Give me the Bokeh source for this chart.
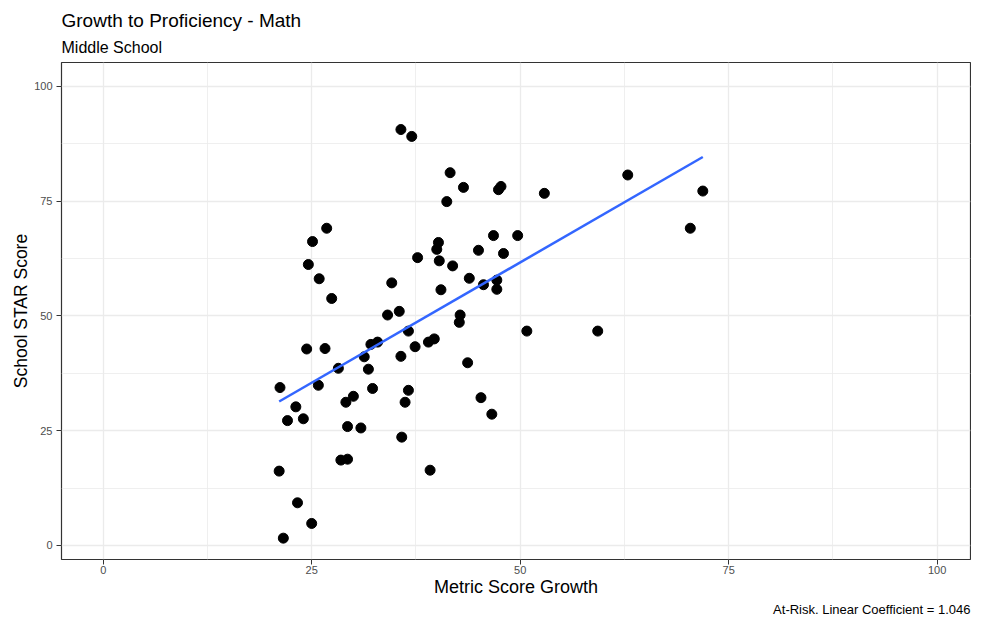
import numpy as np
from bokeh.plotting import figure
from bokeh.models import FixedTicker, Title, Range1d
from bokeh.embed import file_html
from bokeh.resources import INLINE

# ---- data ----
growth = [35.7, 37.0, 41.6, 43.2, 41.2, 26.8, 25.1, 24.6, 25.9, 27.4,
          40.2, 40.0, 40.3, 37.7, 41.9, 43.9, 45.0, 34.6, 40.5, 35.5,
          47.7, 47.4, 52.9, 46.8, 49.7, 48.0, 45.6, 47.2, 47.2, 42.8,
          42.7, 36.6, 50.8, 59.3, 35.7, 37.4, 39.0, 39.7, 43.7, 36.6,
          36.2, 45.3, 46.6, 35.8, 34.1, 24.4, 26.6, 32.1, 32.9, 31.3,
          28.2, 31.8, 21.2, 25.8, 32.3, 30.0, 29.1, 23.1, 22.1, 24.0,
          29.3, 30.9, 28.5, 29.3, 39.2, 21.1, 23.3, 25.0, 21.6, 62.9,
          71.9, 70.4]
score = [90.6, 89.1, 81.2, 78.0, 74.9, 69.1, 66.2, 61.2, 58.1, 53.8,
         66.0, 64.5, 62.0, 62.7, 60.9, 58.2, 64.3, 57.2, 55.7, 51.0,
         78.2, 77.5, 76.7, 67.5, 67.5, 63.6, 56.8, 57.8, 55.8, 50.2,
         48.6, 46.7, 46.7, 46.7, 41.2, 43.3, 44.3, 45.0, 39.8, 33.8,
         31.2, 32.2, 28.6, 23.6, 50.2, 42.8, 42.9, 43.8, 44.3, 41.1,
         38.6, 38.4, 34.4, 34.9, 34.2, 32.5, 31.2, 30.2, 27.2, 27.6,
         25.9, 25.6, 18.6, 18.8, 16.4, 16.2, 9.3, 4.8, 1.6, 80.7,
         77.2, 69.1]

x_ticks = [0, 25, 50, 75, 100]
y_ticks = [0, 25, 50, 75, 100]
minor_ticks = [12.5, 37.5, 62.5, 87.5]

title_text = "Growth to Proficiency - Math"
subtitle_text = "Middle School"
x_label = "Metric Score Growth"
y_label = "School STAR Score"
caption_text = "At-Risk. Linear Coefficient = 1.046"

FONT = "Liberation Sans"

p = figure(width=971, height=616, output_backend="svg", toolbar_location=None,
           x_range=Range1d(-5.0, 104.0), y_range=Range1d(-3.05, 105.2),
           title=None, min_border_left=61, min_border_right=1,
           min_border_top=62, min_border_bottom=51)
p.background_fill_color = "white"
p.border_fill_color = "white"
p.outline_line_color = "#333333"
p.outline_line_width = 1.2

for ax, ticks in ((p.xaxis[0], x_ticks), (p.yaxis[0], y_ticks)):
    ax.ticker = FixedTicker(ticks=ticks, minor_ticks=minor_ticks)
    ax.axis_line_color = None
    ax.major_tick_line_color = "#333333"
    ax.major_tick_out = 5
    ax.major_tick_in = 0
    ax.minor_tick_line_color = None
    ax.major_label_text_font = FONT
    ax.major_label_text_font_size = "11px"
    ax.major_label_text_color = "#4D4D4D"
    ax.axis_label_text_font = FONT
    ax.axis_label_text_font_style = "normal"
    ax.axis_label_text_color = "black"

p.xaxis[0].axis_label = x_label
p.yaxis[0].axis_label = y_label
p.xaxis[0].axis_label_text_font_size = "18px"
p.yaxis[0].axis_label_text_font_size = "17.5px"
p.xaxis[0].major_label_standoff = 1
p.xaxis[0].axis_label_standoff = 0
p.yaxis[0].major_label_standoff = 4
p.yaxis[0].axis_label_standoff = 0

for g in (p.xgrid[0], p.ygrid[0]):
    g.grid_line_color = "#EBEBEB"
    g.grid_line_width = 1.3
    g.minor_grid_line_color = "#EBEBEB"
    g.minor_grid_line_width = 0.8

p.scatter(growth, score, size=10, color="black")

coef = np.polyfit(growth, score, 1)
xs = [min(growth), max(growth)]
ys = list(np.polyval(coef, xs))
p.line(xs, ys, line_color="#3366FF", line_width=2.5)

p.add_layout(Title(text=subtitle_text, text_font=FONT, text_font_size="16px",
                   text_font_style="normal", text_color="black",
                   align="left", standoff=13), "above")
p.add_layout(Title(text=title_text, text_font=FONT, text_font_size="19px",
                   text_font_style="normal", text_color="black",
                   align="left", standoff=-1), "above")

p.add_layout(Title(text=caption_text, text_font=FONT, text_font_size="13px",
                   text_font_style="normal", text_color="black",
                   align="right", standoff=0), "below")

open("out.html", "w").write(file_html(p, INLINE))
